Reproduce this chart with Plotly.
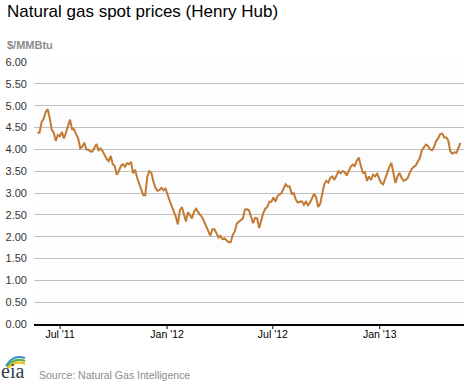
import pandas as pd
import plotly.graph_objects as go

# ---- data (half-weekly samples, $/MMBtu) ----
start_date = "2011-05-23"
step = "84h"  # 3.5 days between samples
price = [
    4.38, 4.38, 4.62, 4.70, 4.85, 4.92, 4.72, 4.45, 4.38, 4.19,
    4.33, 4.30, 4.40, 4.25, 4.38, 4.52, 4.68, 4.46, 4.46, 4.35,
    4.25, 4.03, 4.06, 4.15, 4.00, 3.99, 3.95, 3.95, 4.05, 4.12,
    3.98, 4.02, 3.96, 3.87, 3.78, 3.73, 3.85, 3.66, 3.62, 3.42,
    3.50, 3.62, 3.66, 3.60, 3.68, 3.66, 3.71, 3.45, 3.53, 3.35,
    3.22, 3.10, 2.95, 2.95, 3.38, 3.50, 3.46, 3.26, 3.12, 3.05,
    3.07, 3.12, 3.06, 3.10, 2.94, 2.82, 2.70, 2.59, 2.46, 2.28,
    2.60, 2.68, 2.54, 2.35, 2.56, 2.49, 2.42, 2.58, 2.64, 2.56,
    2.50, 2.44, 2.34, 2.24, 2.14, 2.02, 2.17, 2.17, 2.08, 1.98,
    2.02, 1.94, 1.96, 1.92, 1.87, 1.87, 2.04, 2.12, 2.30, 2.34,
    2.37, 2.42, 2.62, 2.63, 2.60, 2.44, 2.31, 2.43, 2.42, 2.20,
    2.38, 2.54, 2.64, 2.68, 2.80, 2.80, 2.90, 2.80, 2.93, 2.96,
    3.00, 3.10, 3.20, 3.15, 3.15, 2.98, 3.00, 2.85, 2.78, 2.80,
    2.81, 2.73, 2.80, 2.72, 2.78, 2.88, 2.98, 2.90, 2.68, 2.75,
    2.96, 3.20, 3.28, 3.24, 3.35, 3.38, 3.30, 3.42, 3.50, 3.45,
    3.50, 3.48, 3.40, 3.50, 3.60, 3.65, 3.62, 3.74, 3.81, 3.62,
    3.46, 3.48, 3.28, 3.38, 3.30, 3.42, 3.38, 3.44, 3.33, 3.23,
    3.20, 3.35, 3.50, 3.60, 3.69, 3.45, 3.23, 3.38, 3.46, 3.35,
    3.28, 3.30, 3.34, 3.46, 3.55, 3.60, 3.63, 3.72, 3.80, 3.98,
    4.06, 4.11, 4.08, 4.00, 3.98, 4.05, 4.19, 4.25, 4.35, 4.36,
    4.27, 4.27, 4.20, 3.95, 3.90, 3.93, 3.92, 4.06, 4.15,
]
dates = pd.date_range(start_date, periods=len(price), freq=step)

tick_vals = ["2011-07-01", "2012-01-01", "2012-07-01", "2013-01-01"]
tick_text = ["Jul '11", "Jan '12", "Jul '12", "Jan '13"]
y_ticks = [0, 0.5, 1, 1.5, 2, 2.5, 3, 3.5, 4, 4.5, 5, 5.5, 6]

title_text = "Natural gas spot prices (Henry Hub)"
unit_text = "$/MMBtu"
source_text = "Source: Natural Gas Intelligence"

# ---- layout geometry ----
W_FIG, H_FIG = 470, 383
L, R, T, B = 34, 6, 62, 59
PW = W_FIG - L - R
PH = H_FIG - T - B


def px(x):
    return (x - L) / PW


def py(y):
    return (H_FIG - B - y) / PH


FONT = "Arial, 'Liberation Sans', sans-serif"

fig = go.Figure()
fig.add_trace(go.Scatter(
    x=dates, y=price, mode="lines",
    line=dict(color="#c27a32", width=2),
    hoverinfo="skip",
))

annotations = [
    dict(text=title_text, x=px(5), y=py(11), xref="paper", yref="paper",
         xanchor="left", yanchor="middle", showarrow=False,
         font=dict(family=FONT, size=17, color="#000000")),
    dict(text="<b>" + unit_text + "</b>", x=px(5), y=py(45), xref="paper", yref="paper",
         xanchor="left", yanchor="middle", showarrow=False,
         font=dict(family=FONT, size=11, color="#8c8c8c")),
    dict(text=source_text, x=px(37), y=py(375), xref="paper", yref="paper",
         xanchor="left", yanchor="middle", showarrow=False,
         font=dict(family=FONT, size=10.5, color="#8c8c8c")),
    dict(text="eia", x=px(-1), y=py(371), xref="paper", yref="paper",
         xanchor="left", yanchor="middle", showarrow=False,
         font=dict(family="'Liberation Serif', 'DejaVu Serif', serif", size=20, color="#2e3f52")),
]


def arc(x0, y0, cx, cy, x1, y1, color):
    return dict(type="path", xref="paper", yref="paper",
                path=f"M {px(x0)},{py(y0)} Q {px(cx)},{py(cy)} {px(x1)},{py(y1)}",
                line=dict(color=color, width=2.2))


shapes = [
    arc(6, 366, 13, 354, 25, 358, "#3b8dd0"),
    arc(7, 367, 14, 357, 25, 361, "#5cb247"),
    arc(8, 368, 15, 360, 25, 364, "#f0c419"),
]
# outside tick marks on the date axis, placed at the tick dates
for tv in tick_vals:
    shapes.append(dict(type="line", xref="x", yref="paper",
                       x0=tv, x1=tv, y0=0, y1=-5 / PH,
                       line=dict(color="#000000", width=1)))

fig.update_layout(
    width=W_FIG, height=H_FIG,
    margin=dict(l=L, r=R, t=T, b=B),
    paper_bgcolor="#ffffff",
    plot_bgcolor="#fdfdfd",
    showlegend=False,
    annotations=annotations,
    shapes=shapes,
    font=dict(family=FONT, size=11, color="#333333"),
    xaxis=dict(
        type="date",
        range=["2011-05-17", "2013-05-26"],
        tickvals=tick_vals, ticktext=tick_text,
        ticks="",
        showline=True, linecolor="#000000", linewidth=1.5,
        showgrid=False, zeroline=False,
        tickfont=dict(family=FONT, size=10.5, color="#000000"),
    ),
    yaxis=dict(
        range=[0, 6],
        tickvals=y_ticks, tickformat=".2f",
        showgrid=True, gridcolor="#c0c0c0", gridwidth=1,
        zeroline=False, showline=False, ticks="",
        ticklabelstandoff=6,
        tickfont=dict(family=FONT, size=11, color="#333333"),
    ),
)

fig.write_html(
    "out.html",
    config={"displayModeBar": False},
    post_script="document.body.style.margin='0px';document.body.style.overflow='hidden';",
)
